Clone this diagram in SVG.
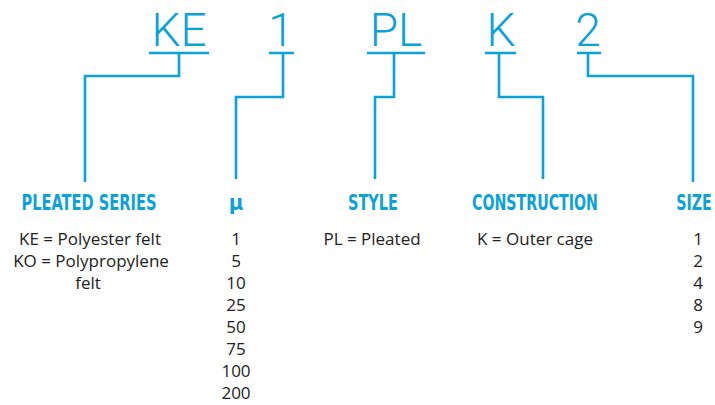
<svg xmlns="http://www.w3.org/2000/svg" width="715" height="405" viewBox="0 0 715 405">
<style>
.code{font-family:Roboto,"Liberation Sans",sans-serif;font-weight:300;font-size:46px;fill:#0aa2d8;text-anchor:middle}
.head{font-family:"DejaVu Sans Condensed","Liberation Sans",sans-serif;font-weight:bold;font-size:22px;fill:#0aa2d8;text-anchor:middle}
.body{font-family:"Open Sans","Liberation Sans",Arial,sans-serif;font-size:17px;fill:#222;text-anchor:middle}
.ln{fill:none;stroke:#0aa2d8;stroke-width:2.6}
</style>
<rect width="715" height="405" fill="#fff"/>
<g id="connectors" class="ln">
<path d="M149 53H209M179 53V76H85V182"/>
<path d="M269 53H294M283 53V97H236V179"/>
<path d="M367 53H425M394 53V97H375V179"/>
<path d="M485 53H516M499 53V97H543V179"/>
<path d="M577 53H601M588 53V76H693V182"/>
</g>
<g id="series">
<text class="code" x="179" y="46">KE</text>
<text class="head" x="89" y="210" textLength="135" lengthAdjust="spacingAndGlyphs">PLEATED SERIES</text>
<text class="body" x="90" y="245">KE = Polyester felt</text>
<text class="body" x="91" y="267">KO = Polypropylene</text>
<text class="body" x="88" y="289">felt</text>
</g>
<g id="micron">
<text class="code" x="281" y="46">1</text>
<text class="head" x="236" y="210">μ</text>
<text class="body" x="236" y="245">1</text>
<text class="body" x="236" y="267">5</text>
<text class="body" x="236" y="289">10</text>
<text class="body" x="236" y="311">25</text>
<text class="body" x="236" y="333">50</text>
<text class="body" x="236" y="355">75</text>
<text class="body" x="236" y="377">100</text>
<text class="body" x="236" y="399">200</text>
</g>
<g id="style">
<text class="code" x="396" y="46">PL</text>
<text class="head" x="373" y="210" textLength="50" lengthAdjust="spacingAndGlyphs">STYLE</text>
<text class="body" x="372" y="245">PL = Pleated</text>
</g>
<g id="construction">
<text class="code" x="501" y="46">K</text>
<text class="head" x="535" y="210" textLength="126" lengthAdjust="spacingAndGlyphs">CONSTRUCTION</text>
<text class="body" x="535" y="245">K = Outer cage</text>
</g>
<g id="size">
<text class="code" x="588" y="46">2</text>
<text class="head" transform="translate(694 210) scale(0.72 1)" x="0" y="0">SIZE</text>
<text class="body" x="698" y="245">1</text>
<text class="body" x="698" y="267">2</text>
<text class="body" x="698" y="289">4</text>
<text class="body" x="698" y="311">8</text>
<text class="body" x="698" y="333">9</text>
</g>
</svg>
